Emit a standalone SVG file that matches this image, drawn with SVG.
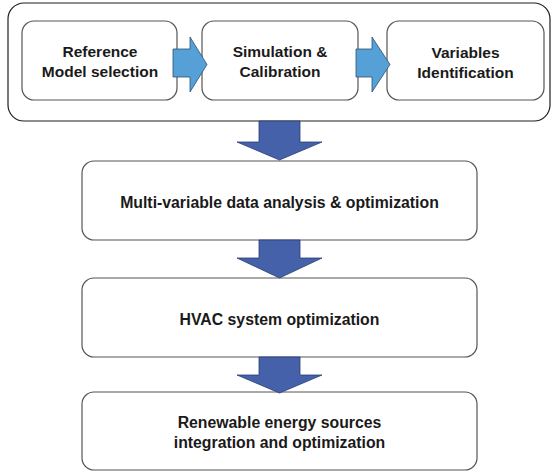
<svg xmlns="http://www.w3.org/2000/svg" width="553" height="472" viewBox="0 0 553 472">
  <style>
    .frame { fill: #ffffff; stroke: #1e1e1e; stroke-width: 1.2; }
    .box { fill: #ffffff; stroke: #555555; stroke-width: 1.2; }
    .label { font-family: "Liberation Sans", Arial, sans-serif; font-weight: bold; fill: #1a1a1a; text-anchor: middle; }
    .small { font-size: 15.5px; }
    .wide { font-size: 15.8px; }
    .side-arrow { fill: #55a0d6; stroke: #2f4f6f; stroke-width: 0.8; }
    .down-arrow { fill: #4461a9; stroke: #2a3d75; stroke-width: 0.8; }
  </style>
  <rect width="553" height="472" fill="#ffffff"/>

  <!-- container for the first three steps -->
  <g id="stage-group">
    <rect class="frame" x="8" y="3" width="542" height="118" rx="16" ry="16"/>
  </g>

  <g id="reference-model">
    <rect class="box" x="22" y="21" width="155" height="79" rx="12" ry="12"/>
    <text class="label small" x="100" y="57">Reference</text>
    <text class="label small" x="100" y="77">Model selection</text>
  </g>

  <g id="simulation">
    <rect class="box" x="202" y="21" width="156" height="79" rx="12" ry="12"/>
    <text class="label small" x="280" y="57">Simulation &amp;</text>
    <text class="label small" x="280" y="77">Calibration</text>
  </g>

  <g id="variables">
    <rect class="box" x="387" y="21" width="157" height="79" rx="12" ry="12"/>
    <text class="label small" x="465.5" y="58">Variables</text>
    <text class="label small" x="465.5" y="78">Identification</text>
  </g>

  <g id="data-analysis">
    <rect class="box" x="82" y="161" width="395" height="79" rx="12" ry="12"/>
    <text class="label wide" x="279.5" y="208">Multi-variable data analysis &amp; optimization</text>
  </g>

  <g id="hvac">
    <rect class="box" x="82" y="278" width="395" height="79" rx="12" ry="12"/>
    <text class="label wide" x="279.5" y="325">HVAC system optimization</text>
  </g>

  <g id="renewables">
    <rect class="box" x="82" y="392" width="395" height="78" rx="12" ry="12"/>
    <text class="label wide" x="279.5" y="428">Renewable energy sources</text>
    <text class="label wide" x="279.5" y="448">integration and optimization</text>
  </g>

  <g id="connectors">
    <!-- block arrows between the top steps -->
    <polygon class="side-arrow" points="173,49 190,49 190,37 207,64.5 190,92 190,77 173,77"/>
    <polygon class="side-arrow" points="356,49 372,49 372,37 390,64.5 372,92 372,77 356,77"/>
    <!-- block arrows down the main flow -->
    <polygon class="down-arrow" points="259,121 300,121 300,142 322,142 279.5,160 237,142 259,142"/>
    <polygon class="down-arrow" points="259,240 300,240 300,258 322,258 279.5,278 237,258 259,258"/>
    <polygon class="down-arrow" points="259,357 300,357 300,375 322,375 279.5,393 237,375 259,375"/>
  </g>
</svg>
